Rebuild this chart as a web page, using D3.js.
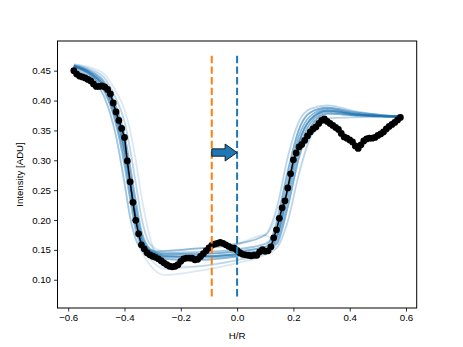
<!DOCTYPE html>
<html>
<head>
<meta charset="utf-8">
<script src="https://cdn.jsdelivr.net/npm/d3@7"></script>
<style>
body { margin: 0; background: #fff; }
text { font-family: "Liberation Sans", Arial, sans-serif; }
</style>
</head>
<body>
<div id="chart"></div>
<script>
// observed profile (H/R, intensity)
var hr = [-0.58,-0.57,-0.56,-0.55,-0.54,-0.53,-0.52,-0.51,-0.50,-0.49,-0.48,-0.47,-0.46,-0.45,-0.44,-0.43,-0.42,-0.41,-0.40,-0.39,
    -0.38,-0.37,-0.36,-0.35,-0.34,-0.33,-0.32,-0.31,-0.30,-0.29,-0.28,-0.27,-0.26,-0.25,-0.24,-0.23,-0.22,-0.21,-0.20,-0.19,
    -0.18,-0.17,-0.16,-0.15,-0.14,-0.13,-0.12,-0.11,-0.10,-0.09,-0.08,-0.07,-0.06,-0.05,-0.04,-0.03,-0.02,-0.01,0.00,0.01,
    0.02,0.03,0.04,0.05,0.06,0.07,0.08,0.09,0.10,0.11,0.12,0.13,0.14,0.15,0.16,0.17,0.18,0.19,0.20,0.21,
    0.22,0.23,0.24,0.25,0.26,0.27,0.28,0.29,0.30,0.31,0.32,0.33,0.34,0.35,0.36,0.37,0.38,0.39,0.40,0.41,
    0.42,0.43,0.44,0.45,0.46,0.47,0.48,0.49,0.50,0.51,0.52,0.53,0.54,0.55,0.56,0.57,0.58];
var intensity = [0.4500,0.4445,0.4411,0.4395,0.4378,0.4353,0.4328,0.4278,0.4236,0.4236,0.4244,0.4227,0.4186,0.4110,0.3960,0.3809,0.3667,0.3533,0.3383,0.2990,
    0.2639,0.2296,0.1995,0.1769,0.1585,0.1518,0.1452,0.1418,0.1393,0.1376,0.1351,0.1318,0.1284,0.1251,0.1226,0.1217,0.1226,0.1251,0.1309,0.1351,
    0.1363,0.1363,0.1360,0.1334,0.1343,0.1390,0.1435,0.1485,0.1535,0.1577,0.1597,0.1610,0.1627,0.1610,0.1585,0.1560,0.1535,0.1527,0.1493,0.1452,
    0.1426,0.1418,0.1410,0.1401,0.1410,0.1410,0.1468,0.1502,0.1476,0.1485,0.1552,0.1702,0.1836,0.2028,0.2204,0.2321,0.2538,0.2773,0.3007,0.3122,
    0.3224,0.3266,0.3333,0.3408,0.3475,0.3525,0.3559,0.3617,0.3667,0.3692,0.3651,0.3617,0.3584,0.3550,0.3517,0.3450,0.3391,0.3370,0.3341,0.3308,
    0.3241,0.3199,0.3258,0.3324,0.3358,0.3370,0.3370,0.3383,0.3416,0.3441,0.3475,0.3525,0.3567,0.3600,0.3634,0.3676,0.3717];

// model samples, given at shared H/R knots
var modelHr = [-0.58,-0.52,-0.47,-0.43,-0.40,-0.38,-0.36,-0.34,-0.31,-0.26,-0.15,0.00,0.10,0.14,0.18,0.22,0.26,0.32,0.42,0.58];
var modelCurves = [
    [0.458,0.445,0.422,0.375,0.318,0.262,0.205,0.168,0.148, 0.140,0.139,0.143,0.150, 0.172,0.250,0.330,0.368,0.383,0.377,0.373],
    [0.458,0.445,0.422,0.375,0.318,0.262,0.205,0.168,0.148, 0.143,0.143,0.147,0.155, 0.195,0.280,0.352,0.380,0.388,0.380,0.373],
    [0.457,0.441,0.414,0.360,0.292,0.235,0.183,0.158,0.145, 0.140,0.139,0.143,0.150, 0.172,0.250,0.330,0.368,0.383,0.377,0.373],
    [0.459,0.449,0.430,0.390,0.343,0.290,0.232,0.182,0.152, 0.143,0.143,0.147,0.155, 0.160,0.222,0.305,0.355,0.378,0.375,0.373],
    [0.455,0.436,0.404,0.340,0.262,0.205,0.168,0.152,0.142, 0.135,0.133,0.139,0.146, 0.172,0.250,0.330,0.368,0.383,0.377,0.373],
    [0.460,0.452,0.437,0.403,0.365,0.318,0.262,0.205,0.160, 0.148,0.152,0.160,0.175, 0.218,0.305,0.365,0.386,0.392,0.382,0.373],
    [0.458,0.445,0.422,0.375,0.318,0.262,0.205,0.168,0.148, 0.135,0.133,0.139,0.146, 0.160,0.222,0.305,0.355,0.378,0.375,0.373],
    [0.457,0.441,0.414,0.360,0.292,0.235,0.183,0.158,0.145, 0.143,0.143,0.147,0.155, 0.195,0.280,0.352,0.380,0.388,0.380,0.373],
    [0.459,0.449,0.430,0.390,0.343,0.290,0.232,0.182,0.152, 0.140,0.139,0.143,0.150, 0.172,0.250,0.330,0.368,0.383,0.377,0.373],
    [0.455,0.436,0.404,0.340,0.262,0.205,0.168,0.148,0.125, 0.108,0.114,0.128,0.142, 0.153,0.198,0.278,0.338,0.370,0.372,0.373],
    [0.458,0.445,0.422,0.375,0.318,0.262,0.205,0.168,0.148, 0.148,0.152,0.160,0.175, 0.205,0.285,0.352,0.380,0.388,0.380,0.373],
    [0.459,0.449,0.430,0.390,0.343,0.290,0.232,0.182,0.152, 0.135,0.133,0.139,0.146, 0.153,0.198,0.278,0.338,0.370,0.372,0.373],
    [0.457,0.441,0.414,0.360,0.292,0.235,0.183,0.158,0.145, 0.148,0.152,0.160,0.175, 0.218,0.305,0.365,0.386,0.392,0.382,0.373],
    [0.458,0.445,0.422,0.375,0.318,0.262,0.205,0.168,0.148, 0.140,0.139,0.143,0.150, 0.160,0.222,0.305,0.355,0.378,0.375,0.373],
    [0.460,0.452,0.437,0.403,0.365,0.318,0.262,0.205,0.160, 0.140,0.139,0.143,0.150, 0.172,0.250,0.330,0.368,0.383,0.377,0.373],
    [0.461,0.455,0.443,0.415,0.385,0.350,0.300,0.240,0.172, 0.122,0.122,0.133,0.145, 0.195,0.280,0.352,0.380,0.388,0.380,0.373],
    [0.455,0.436,0.404,0.340,0.262,0.205,0.168,0.150,0.135, 0.118,0.122,0.133,0.145, 0.160,0.222,0.305,0.355,0.378,0.375,0.373],
    [0.458,0.445,0.422,0.375,0.318,0.262,0.205,0.168,0.148, 0.143,0.143,0.147,0.155, 0.172,0.250,0.330,0.368,0.383,0.377,0.373],
    [0.457,0.443,0.418,0.367,0.305,0.248,0.193,0.162,0.146, 0.138,0.137,0.141,0.148, 0.183,0.265,0.341,0.374,0.386,0.378,0.373],
    [0.458,0.447,0.426,0.383,0.331,0.276,0.218,0.175,0.150, 0.140,0.139,0.143,0.150, 0.166,0.236,0.318,0.362,0.381,0.376,0.373],
    [0.457,0.443,0.418,0.367,0.305,0.248,0.193,0.162,0.146, 0.143,0.143,0.147,0.155, 0.172,0.250,0.330,0.368,0.383,0.377,0.373],
    [0.458,0.447,0.426,0.383,0.331,0.276,0.218,0.175,0.150, 0.145,0.146,0.151,0.160, 0.183,0.265,0.341,0.374,0.386,0.378,0.373],
    [0.458,0.445,0.422,0.375,0.318,0.262,0.205,0.168,0.148, 0.138,0.137,0.141,0.148, 0.166,0.236,0.318,0.362,0.381,0.376,0.373],
    [0.457,0.443,0.418,0.367,0.305,0.248,0.193,0.162,0.146, 0.140,0.139,0.143,0.150, 0.166,0.236,0.318,0.362,0.381,0.376,0.373],
    [0.458,0.447,0.426,0.383,0.331,0.276,0.218,0.175,0.150, 0.138,0.137,0.141,0.148, 0.172,0.250,0.330,0.368,0.383,0.377,0.373],
    [0.458,0.445,0.422,0.375,0.318,0.262,0.205,0.168,0.148, 0.145,0.146,0.151,0.160, 0.183,0.265,0.341,0.374,0.386,0.378,0.373],
    [0.457,0.441,0.414,0.360,0.292,0.235,0.183,0.158,0.145, 0.138,0.137,0.141,0.148, 0.166,0.236,0.318,0.362,0.381,0.376,0.373],
    [0.459,0.449,0.430,0.390,0.343,0.290,0.232,0.182,0.152, 0.145,0.146,0.151,0.160, 0.183,0.265,0.341,0.374,0.386,0.378,0.373],
    [0.457,0.443,0.418,0.367,0.305,0.248,0.193,0.162,0.146, 0.135,0.133,0.139,0.146, 0.195,0.280,0.352,0.380,0.388,0.380,0.373],
    [0.458,0.447,0.426,0.383,0.331,0.276,0.218,0.175,0.150, 0.148,0.152,0.160,0.175, 0.160,0.222,0.305,0.355,0.378,0.375,0.373]
];

// reference positions and the shift arrow
var markerHr = [-0.09, 0.00];
var markerSpan = [0.072, 0.476];
var arrowHr = [-0.09, 0.00];
var arrowLevel = 0.313;

var xTicks = [-0.6, -0.4, -0.2, 0.0, 0.2, 0.4, 0.6];
var yTicks = [0.10, 0.15, 0.20, 0.25, 0.30, 0.35, 0.40, 0.45];

function init(){

    var w = 463;
    var h = 347;
    var left = 57.5, right = 416.7, top = 41, bottom = 308;

    var xScale = d3.scaleLinear()
                    .domain([-0.638, 0.638])
                    .range([left, right]);
    var yScale = d3.scaleLinear()
                    .domain([0.0527, 0.4997])
                    .range([bottom, top]);

    var svg = d3.select("#chart")
                .append("svg")
                .attr("width", w)
                .attr("height", h);

    svg.append("rect")
        .attr("width", w)
        .attr("height", h)
        .attr("fill", "#fff");

    var plot = svg.append("g");

    // model curves
    var modelLine = d3.line()
                    .x(function(d, i){ return xScale(modelHr[i]); })
                    .y(function(d){ return yScale(d); })
                    .curve(d3.curveMonotoneX);

    plot.selectAll("path.model")
        .data(modelCurves)
        .enter()
        .append("path")
        .attr("class", "model")
        .attr("d", modelLine)
        .attr("fill", "none")
        .attr("stroke", "#1f77b4")
        .attr("stroke-opacity", 0.16)
        .attr("stroke-width", 1.8);

    // observed data
    var dataLine = d3.line()
                    .x(function(d, i){ return xScale(hr[i]); })
                    .y(function(d){ return yScale(d); });

    plot.append("path")
        .datum(intensity)
        .attr("d", dataLine)
        .attr("fill", "none")
        .attr("stroke", "#000")
        .attr("stroke-width", 1.5);

    plot.selectAll("circle")
        .data(intensity)
        .enter()
        .append("circle")
        .attr("cx", function(d, i){ return xScale(hr[i]); })
        .attr("cy", function(d){ return yScale(d); })
        .attr("r", 3.4)
        .attr("fill", "#000");

    // dashed markers
    var markerColors = ["#ff7f0e", "#1f77b4"];
    plot.selectAll("line.marker")
        .data(markerHr)
        .enter()
        .append("line")
        .attr("class", "marker")
        .attr("x1", function(d){ return xScale(d); })
        .attr("x2", function(d){ return xScale(d); })
        .attr("y1", yScale(markerSpan[0]))
        .attr("y2", yScale(markerSpan[1]))
        .attr("stroke", function(d, i){ return markerColors[i]; })
        .attr("stroke-width", 2)
        .attr("stroke-dasharray", "7.4,3.2");

    // arrow
    var ax0 = xScale(arrowHr[0]), ax1 = xScale(arrowHr[1]), ay = yScale(arrowLevel);
    var headL = 12, headW = 8.5, bodyW = 3.7;
    var pts = [[ax0, ay - bodyW], [ax1 - headL, ay - bodyW], [ax1 - headL, ay - headW], [ax1, ay],
               [ax1 - headL, ay + headW], [ax1 - headL, ay + bodyW], [ax0, ay + bodyW]];
    plot.append("polygon")
        .attr("points", pts.map(function(p){ return p.join(","); }).join(" "))
        .attr("fill", "#1f77b4")
        .attr("stroke", "#000")
        .attr("stroke-width", 0.8)
        .attr("stroke-linejoin", "miter");

    // frame
    svg.append("rect")
        .attr("x", left)
        .attr("y", top)
        .attr("width", right - left)
        .attr("height", bottom - top)
        .attr("fill", "none")
        .attr("stroke", "#000")
        .attr("stroke-width", 1);

    // axes
    var xAxis = svg.append("g")
                .attr("transform", "translate(0," + bottom + ")")
                .call(d3.axisBottom(xScale)
                        .tickValues(xTicks)
                        .tickSize(3.5)
                        .tickPadding(3)
                        .tickFormat(d3.format(".1f")));
    var yAxis = svg.append("g")
                .attr("transform", "translate(" + left + ",0)")
                .call(d3.axisLeft(yScale)
                        .tickValues(yTicks)
                        .tickSize(3.5)
                        .tickPadding(3)
                        .tickFormat(d3.format(".2f")));

    [xAxis, yAxis].forEach(function(a){
        a.select(".domain").remove();
        a.selectAll("line").attr("stroke", "#000").attr("stroke-width", 0.8);
        a.selectAll("text")
            .attr("fill", "#000")
            .style("font-family", "'Liberation Sans', Arial, sans-serif")
            .style("font-size", "9.7px");
    });

    svg.append("text")
        .attr("x", (left + right) / 2)
        .attr("y", 338.5)
        .attr("text-anchor", "middle")
        .style("font-size", "9.7px")
        .text("H/R");

    svg.append("text")
        .attr("transform", "translate(23," + ((top + bottom) / 2) + ") rotate(-90)")
        .attr("text-anchor", "middle")
        .style("font-size", "9.7px")
        .text("Intensity [ADU]");
}
window.onload = init;
</script>
</body>
</html>
